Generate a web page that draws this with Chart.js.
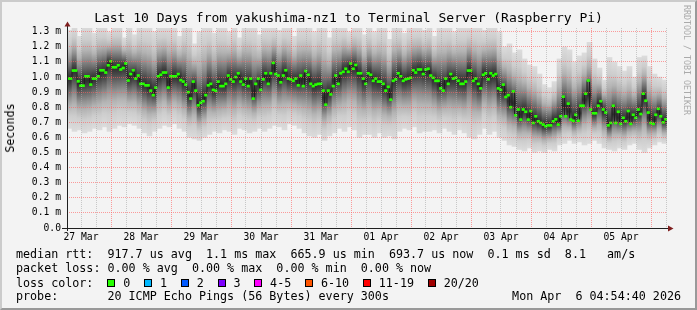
<!DOCTYPE html>
<html>
<head>
<meta charset="utf-8">
<script src="https://cdn.jsdelivr.net/npm/chart.js@4.4.1/dist/chart.umd.min.js"></script>
<style>
html,body{margin:0;padding:0;background:#f3f3f3;}
#wrap{position:relative;width:697px;height:310px;overflow:hidden;background:#f3f3f3;font-family:'DejaVu Sans Mono',monospace;color:#000;}
canvas{position:absolute;left:0;top:0;}
#frame{position:absolute;left:0;top:0;width:697px;height:310px;box-sizing:border-box;border-top:2px solid #cbcbcb;border-left:2px solid #cbcbcb;border-right:2px solid #999;border-bottom:2px solid #999;pointer-events:none;}
.t{position:absolute;white-space:pre;}
.leg{left:16px;font-size:11.7px;line-height:14px;}
.box{display:inline-block;width:6px;height:6px;border:1px solid #000;vertical-align:baseline;}
</style>
</head>
<body>
<div id="wrap">
<canvas id="c" width="697" height="310"></canvas>
<div class="t" style="left:0;width:697px;text-align:center;top:10px;font-size:13px;line-height:16px;">Last 10 Days from yakushima-nz1 to Terminal Server (Raspberry Pi)</div>
<div class="t" style="left:9.5px;top:128px;font-size:11.7px;line-height:14px;transform:translate(-50%,-50%) rotate(-90deg);">Seconds</div>
<div class="t" style="left:682px;top:5px;font-size:8.3px;line-height:10px;writing-mode:vertical-rl;color:#aaaaaa;">RRDTOOL / TOBI OETIKER</div>
<div class="t leg" style="top:247px;">median rtt:  917.7 us avg  1.1 ms max  665.9 us min  693.7 us now  0.1 ms sd  8.1   am/s</div>
<div class="t leg" style="top:261px;">packet loss: 0.00 % avg  0.00 % max  0.00 % min  0.00 % now</div>
<div class="t leg" id="lossrow" style="top:275.5px;"></div>
<div class="t leg" style="top:289px;">probe:       20 ICMP Echo Pings (56 Bytes) every 300s</div>
<div class="t" style="right:16px;top:289px;font-size:11.7px;line-height:14px;">Mon Apr  6 04:54:40 2026</div>
<div id="frame"></div>
</div>
<script>
// ---------------- data ----------------
const DAY_LABELS = ['27 Mar','28 Mar','29 Mar','30 Mar','31 Mar','01 Apr','02 Apr','03 Apr','04 Apr','05 Apr'];
const Y_TICKS = [0,0.1,0.2,0.3,0.4,0.5,0.6,0.7,0.8,0.9,1.0,1.1,1.2,1.3];
const LOSS_LABELS = ['0','1','2','3','4-5','6-10','11-19','20/20'];
const LOSS_COLORS = ['#26ff00','#00b8ff','#0059ff','#7e00ff','#ff00ff','#ff5500','#ff0000','#a00000'];

const SPAN_HOURS = 240;          // 10 days
const START_HOUR_OF_DAY = 6.4;   // window starts 27 Mar 06:24
const MEDIAN_STEP_H = 1;         // one median sample per hour
const SMOKE_STEP_H = 2;          // one smoke column per 2 hours

// median rtt in ms, one value per hour
const MEDIAN_MS = [
 0.99,0.99,1.043,1.043,0.972,0.943,0.943,1.005,1.005,0.95,
 0.99,0.99,1.005,1.045,1.045,1.03,1.078,1.105,1.065,1.065,
 1.078,1.05,1.06,1.09,0.977,1.02,1.045,0.99,1.01,0.955,
 0.955,0.945,0.945,0.91,0.88,0.93,1.005,1.015,1.03,1.03,
 0.93,1.005,1.005,1.005,1.02,0.98,0.97,0.95,0.90,0.857,
 0.97,0.91,0.813,0.83,0.84,0.88,0.945,0.955,0.915,0.91,
 0.97,0.94,0.94,0.955,1.01,0.985,0.97,1.0,1.025,0.97,
 0.95,0.99,0.94,0.99,0.857,0.955,0.99,0.915,0.985,1.025,
 0.955,1.025,1.094,1.02,1.01,0.965,1.01,1.045,0.99,0.985,
 0.975,0.99,0.945,1.01,0.94,1.04,1.015,0.955,0.94,0.95,
 0.955,0.955,0.91,0.817,0.91,0.885,0.94,1.01,0.955,1.025,
 1.035,1.055,1.035,1.09,1.055,1.08,1.025,1.025,0.99,0.955,
 1.025,1.015,0.975,0.99,0.97,0.97,0.955,0.91,0.935,0.85,
 0.975,0.985,1.025,1.005,0.975,0.985,0.99,0.995,1.045,1.03,
 1.05,1.05,1.02,1.05,1.055,1.01,0.995,0.975,0.975,0.925,
 0.91,0.99,0.955,1.02,0.99,0.995,0.975,0.955,0.955,0.97,
 1.043,1.043,0.975,0.99,0.955,0.925,1.015,1.025,0.985,1.025,
 1.01,1.02,0.925,0.915,0.95,0.868,0.88,0.80,0.905,0.747,
 0.785,0.718,0.785,0.77,0.718,0.775,0.696,0.74,0.707,0.696,
 0.685,0.674,0.68,0.68,0.707,0.72,0.685,0.74,0.87,0.74,
 0.824,0.718,0.71,0.75,0.71,0.81,0.81,0.89,0.977,0.785,
 0.76,0.76,0.81,0.84,0.785,0.765,0.68,0.696,0.81,0.696,
 0.77,0.69,0.73,0.707,0.775,0.69,0.75,0.73,0.785,0.755,
 0.89,0.843,0.765,0.696,0.69,0.75,0.79,0.74,0.70,0.72
];

// smoke: lowest and highest ping in ms, one value per 2 hours
const SMOKE_LO_MS = [
 0.66,0.64,0.65,0.63,0.64,0.66,0.65,0.67,0.64,0.66,
 0.68,0.67,0.69,0.68,0.66,0.63,0.61,0.64,0.66,0.68,
 0.67,0.69,0.66,0.64,0.60,0.59,0.58,0.60,0.62,0.64,
 0.63,0.65,0.64,0.62,0.66,0.65,0.63,0.64,0.66,0.64,
 0.66,0.68,0.67,0.65,0.69,0.68,0.66,0.63,0.61,0.60,
 0.62,0.58,0.61,0.63,0.66,0.64,0.67,0.65,0.60,0.62,
 0.62,0.60,0.63,0.60,0.61,0.59,0.64,0.66,0.65,0.67,
 0.63,0.64,0.64,0.65,0.63,0.66,0.64,0.62,0.65,0.63,
 0.60,0.59,0.62,0.66,0.62,0.64,0.60,0.58,0.55,0.54,
 0.52,0.51,0.53,0.50,0.51,0.50,0.52,0.51,0.55,0.56,
 0.58,0.56,0.57,0.55,0.56,0.58,0.56,0.53,0.52,0.51,
 0.53,0.52,0.55,0.56,0.52,0.50,0.53,0.55,0.57,0.56
];
const SMOKE_HI_MS = [
 1.31,1.34,1.27,1.34,1.34,1.29,1.34,1.34,1.30,1.34,
 1.34,1.26,1.34,1.28,1.34,1.34,1.34,1.30,1.34,1.34,
 1.34,1.33,1.27,1.34,1.34,1.22,1.30,1.34,1.34,1.29,
 1.34,1.34,1.30,1.34,1.26,1.34,1.34,1.34,1.28,1.34,
 1.34,1.34,1.31,1.34,1.34,1.27,1.34,1.34,1.34,1.30,
 1.34,1.34,1.26,1.34,1.34,1.34,1.30,1.34,1.34,1.28,
 1.34,1.30,1.34,1.34,1.25,1.34,1.34,1.29,1.34,1.34,
 1.34,1.31,1.34,1.27,1.34,1.34,1.34,1.30,1.34,1.34,
 1.34,1.34,1.34,1.31,1.34,1.34,1.30,1.20,1.22,1.16,
 1.18,1.12,1.08,1.07,1.02,0.95,0.93,0.97,1.12,1.20,
 1.18,1.10,1.14,1.16,1.23,1.12,1.06,0.98,1.13,1.10,
 1.07,1.04,1.07,1.00,1.13,1.14,1.07,1.02,1.00,0.98
];

// ---------------- layout & style ----------------
const W = 697, H = 310;
const PLOT = {left: 67, top: 28, right: 667, bottom: 228};
const Y_MAX = 1.325;
const FONT = 'DejaVu Sans Mono';
const GRID_MINOR = 'rgba(170,170,170,0.6)';
const GRID_MAJOR = 'rgba(255,95,95,0.6)';
const AXIS_COLOR = '#1f1f1f';
const ARROW_COLOR = '#7f1f1f';
// shades from outer edge (t=0) to median (t=1)
const SMOKE_SHADES = [[0,'#dcdcdc'],[0.25,'#cdcdcd'],[0.45,'#b3b3b3'],[0.6,'#939393'],[0.75,'#6c6c6c'],[0.88,'#484848'],[1,'#2c2c2c']];

// legend loss-colour row
(function(){
  const row = document.getElementById('lossrow');
  let html = 'loss color:  ';
  LOSS_LABELS.forEach((lab, i) => {
    html += '<span class="box" style="background:' + LOSS_COLORS[i] + '"></span>' +
            '<span style="margin-left:7.7px;margin-right:14px">' + lab + '</span>';
  });
  row.innerHTML = html;
})();

// x ticks every 6 h, aligned to local clock (noon / 18h / midnight / 6h)
const X_TICK_HOURS = [];
for (let h = 12 - START_HOUR_OF_DAY; h < SPAN_HOURS; h += 6) X_TICK_HOURS.push(h);

const onePx = Y_MAX / (PLOT.bottom - PLOT.top);
const medianPts = MEDIAN_MS.map((m, j) => ({x: j * MEDIAN_STEP_H + MEDIAN_STEP_H / 2, y: m}));
const greenPts = MEDIAN_MS.map((m, j) => ({x: j * MEDIAN_STEP_H + MEDIAN_STEP_H / 2, y: [m - onePx, m + onePx]}));
const smokePts = SMOKE_LO_MS.map((lo, c) => ({x: c * SMOKE_STEP_H + SMOKE_STEP_H / 2, y: [lo, SMOKE_HI_MS[c]]}));

function smokeFill(ctx) {
  if (ctx.type !== 'data') return '#d8d8d8';
  const chart = ctx.chart, ys = chart.scales.y;
  const i = ctx.dataIndex;
  const yHi = ys.getPixelForValue(SMOKE_HI_MS[i]);
  const yLo = ys.getPixelForValue(SMOKE_LO_MS[i]);
  const k = SMOKE_STEP_H / MEDIAN_STEP_H;
  let med = 0;
  for (let q = 0; q < k; q++) med += MEDIAN_MS[i * k + q];
  med /= k;
  const yMed = ys.getPixelForValue(med);
  if (!isFinite(yHi) || !isFinite(yLo) || yLo - yHi < 1) return '#d8d8d8';
  const g = chart.ctx.createLinearGradient(0, yHi, 0, yLo);
  let pm = (yMed - yHi) / (yLo - yHi);
  pm = Math.min(0.98, Math.max(0.02, pm));
  SMOKE_SHADES.forEach(([t, c]) => g.addColorStop(pm * t, c));
  for (let s = SMOKE_SHADES.length - 1; s >= 0; s--) {
    const [t, c] = SMOKE_SHADES[s];
    g.addColorStop(pm + (1 - pm) * (1 - t), c);
  }
  return g;
}

const axesPlugin = {
  id: 'rrdAxes',
  afterDraw(chart) {
    const {ctx, chartArea: a} = chart;
    const yb = Math.round(a.bottom) + 0.5;
    const xl = Math.round(a.left) + 0.5;
    ctx.save();
    ctx.strokeStyle = AXIS_COLOR;
    ctx.lineWidth = 1;
    ctx.beginPath();
    ctx.moveTo(a.left - 5, yb); ctx.lineTo(a.right + 2, yb);
    ctx.moveTo(xl, a.bottom + 3); ctx.lineTo(xl, a.top - 2);
    ctx.stroke();
    ctx.fillStyle = ARROW_COLOR;
    ctx.beginPath();
    ctx.moveTo(a.right + 6.5, yb); ctx.lineTo(a.right + 1, yb - 3); ctx.lineTo(a.right + 1, yb + 3); ctx.closePath();
    ctx.fill();
    ctx.beginPath();
    ctx.moveTo(xl, a.top - 6.5); ctx.lineTo(xl - 3, a.top - 1.5); ctx.lineTo(xl + 3, a.top - 1.5); ctx.closePath();
    ctx.fill();
    ctx.restore();
  }
};

Chart.defaults.font.family = FONT;

new Chart(document.getElementById('c'), {
  type: 'bar',
  data: {
    datasets: [
      {type: 'bar', data: greenPts, xAxisID: 'x2', yAxisID: 'y', backgroundColor: LOSS_COLORS[0], borderWidth: 0,
       grouped: false, barPercentage: 1, categoryPercentage: 1, order: 0, clip: 0},
      {type: 'line', data: medianPts, xAxisID: 'x', yAxisID: 'y', borderColor: '#202020', borderWidth: 1,
       stepped: 'middle', pointRadius: 0, fill: false, order: 1, clip: 0},
      {type: 'bar', data: smokePts, xAxisID: 'x', yAxisID: 'y', backgroundColor: smokeFill, borderWidth: 0,
       grouped: false, barPercentage: 1, categoryPercentage: 1, order: 2, clip: 0}
    ]
  },
  options: {
    responsive: false,
    animation: false,
    devicePixelRatio: 1,
    events: [],
    layout: {padding: {left: 0, top: PLOT.top, right: W - PLOT.right, bottom: 0}},
    plugins: {legend: {display: false}, tooltip: {enabled: false}, title: {display: false}},
    scales: {
      x: {
        type: 'linear', position: 'bottom', min: 0, max: SPAN_HOURS, offset: false,
        afterBuildTicks: s => { s.ticks = X_TICK_HOURS.map(v => ({value: v})); },
        afterFit: s => { s.height = H - PLOT.bottom; },
        ticks: {
          autoSkip: false, maxRotation: 0, minRotation: 0, padding: 3.5, color: '#000',
          font: {family: FONT, size: 9.7},
          callback: (v, i) => (i % 4 === 0 ? (DAY_LABELS[i / 4] || '') : '')
        },
        grid: {z: 1, drawTicks: false, offset: false, lineWidth: 1,
               color: c => (c.index % 4 === 2 ? GRID_MAJOR : GRID_MINOR)},
        border: {display: false, dash: [1, 1]}
      },
      x2: {type: 'linear', position: 'bottom', min: 0, max: SPAN_HOURS, offset: false, display: false,
           grid: {offset: false}},
      y: {
        type: 'linear', position: 'left', min: 0, max: Y_MAX,
        afterBuildTicks: s => { s.ticks = Y_TICKS.map(v => ({value: v})); },
        afterFit: s => { s.width = PLOT.left; },
        ticks: {
          padding: 6, color: '#000', font: {family: FONT, size: 9.7},
          callback: v => (v === 0 ? '0.0' : v.toFixed(1) + ' m')
        },
        grid: {z: 1, drawTicks: false, lineWidth: 1, color: GRID_MAJOR},
        border: {display: false, dash: [1, 1]}
      }
    }
  },
  plugins: [axesPlugin]
});
</script>
</body>
</html>
